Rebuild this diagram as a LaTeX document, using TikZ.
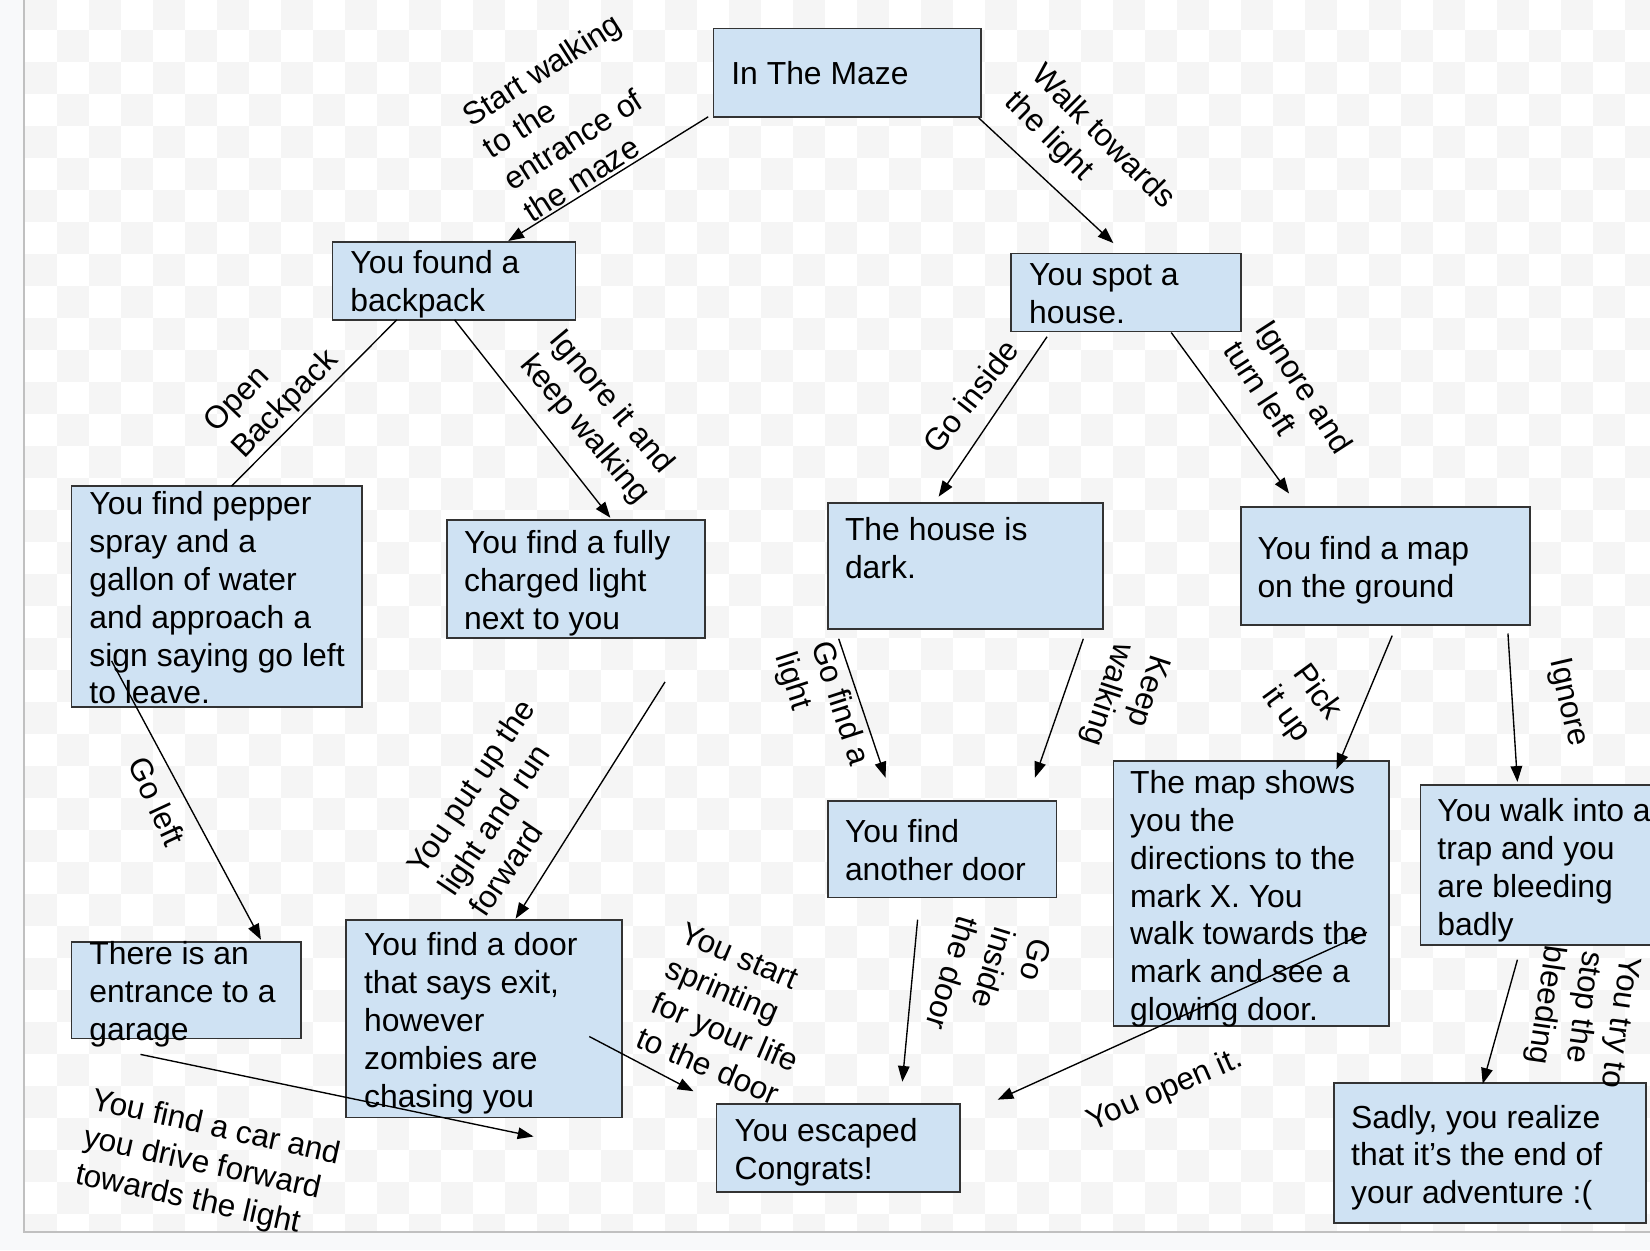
\documentclass[tikz,border=0pt]{standalone}
\usepackage{fontspec}
\setmainfont{Liberation Sans}
\usetikzlibrary{calc,arrows.meta}
\definecolor{boxfill}{HTML}{CFE2F3}
\definecolor{boxline}{HTML}{333333}
\definecolor{chk}{HTML}{F5F5F5}
\definecolor{outerbg}{HTML}{F8F9FA}
\definecolor{frameline}{HTML}{C0C0C0}
\newcommand\mybox[5]{\node[box,minimum width=#4pt,minimum height=#5pt] (#1) at (#2,#3) {};}
\newcommand\boxtext[4]{\node[txt] (#1) at (#2,{#3-25.2}) {\strut #4};}
\newcommand\elbl[5]{\node[lbl,rotate=#4] (#1) at ($(#2,#3)+({#4+90}:25.2pt)$) {\strut #5};}
\begin{document}
\begin{tikzpicture}[x=1pt,y=-1pt,
  box/.style={draw=boxline,fill=boxfill,line width=1.6pt,inner sep=0pt,outer sep=0pt,anchor=north west},
  txt/.style={font=\fontsize{30.3}{36}\selectfont,align=left,inner sep=0pt,outer sep=0pt,anchor=north west},
  lbl/.style={font=\fontsize{30}{36}\selectfont,align=left,inner sep=0pt,outer sep=0pt,anchor=north west},
  conn/.style={line width=1.3pt,draw=black},
  arr/.style={conn,-{Triangle[length=15pt,width=11pt]}}]
\useasboundingbox (0,0) rectangle (1568,1188);
\clip (0,0) rectangle (1568,1188);
\fill[outerbg] (0,0) rectangle (1568,1188);
\begin{scope}
\clip (23.5,0) rectangle (1568,1170.5);
\fill[white] (23.5,0) rectangle (1568,1170.5);
\foreach \i in {0,...,51}{\foreach \j in {0,2,...,40}{\fill[chk] ({23.76+\i*30.41},{-1.9+(\j+mod(\i,2))*30.41}) rectangle ++(30.41,30.41);}}
\end{scope}
\draw[frameline,line width=1.9pt] (22.6,0) -- (22.6,1170.5) -- (1568,1170.5);

% boxes
\mybox{maze}{678}{27}{254}{84}
\mybox{backpack}{316}{230}{231}{74}
\mybox{house}{961}{241}{218}{74}
\mybox{pepper}{68}{462}{276}{210}
\mybox{light}{425}{494}{245}{112}
\mybox{dark}{787}{478}{261}{120}
\mybox{map}{1179}{482}{275}{112}
\mybox{another}{787}{761}{217}{92}
\mybox{mapshows}{1058}{723}{262}{252}
\mybox{trap}{1350}{746}{250}{152}
\mybox{garage}{68}{895}{218}{92}
\mybox{zombie}{329}{874}{262}{188}
\mybox{escaped}{681}{1049}{231}{84}
\mybox{sadly}{1268}{1029}{296}{133}

% box texts
\boxtext{tmaze}{695}{80}{In The Maze}
\boxtext{tbackpack}{333}{260}{You found a\\backpack}
\boxtext{thouse}{978}{271}{You spot a\\house.}
\boxtext{tpepper}{85}{489}{You find pepper\\spray and a\\gallon of water\\and approach a\\sign saying go left\\to leave.}
\boxtext{tlight}{441}{526}{You find a fully\\charged light\\next to you}
\boxtext{tdark}{803}{514}{The house is\\dark.}
\boxtext{tmap}{1195}{532}{You find a map\\on the ground}
\boxtext{tanother}{803}{801}{You find\\another door}
\boxtext{tmapshows}{1074}{754}{The map shows\\you the\\directions to the\\mark X. You\\walk towards the\\mark and see a\\glowing door.}
\boxtext{ttrap}{1366}{781}{You walk into a\\trap and you\\are bleeding\\badly}
\boxtext{tgarage}{85}{917}{There is an\\entrance to a\\garage}
\boxtext{tzombie}{346}{908}{You find a door\\that says exit,\\however\\zombies are\\chasing you}
\boxtext{tescaped}{698}{1085}{You escaped\\Congrats!}
\boxtext{tsadly}{1284}{1072}{Sadly, you realize\\that it's the end of\\your adventure :(}

% connectors
\draw[arr] ($(maze.south west)+(-5,0)$) -- ($(backpack.north)+(51.5,-1)$);
\draw[arr] ($(maze.south east)+(-2,1)$) -- ($(house.north)+(-12,-10)$);
\draw[conn] ($(backpack.south)+(-54.5,0)$) -- ($(pepper.north)+(14,0)$);
\draw[arr] ($(backpack.south)+(0.5,0)$) -- ($(light.north)+(32.5,-2)$);
\draw[arr] ($(pepper.south west)+(38,-44)$) -- ($(garage.north)+(71,-2)$);
\draw[arr] ($(light.south)+(84.5,42)$) -- ($(zombie.north)+(30,-1)$);
\draw[arr] ($(house.south)+(-75,5)$) -- ($(dark.north)+(-25.5,-6)$);
\draw[arr] ($(house.south)+(43,1)$) -- ($(map.north)+(-91.5,-13)$);
\draw[arr] ($(dark.south)+(-120.5,9)$) -- ($(another.north)+(-54,-22)$);
\draw[arr] ($(dark.south)+(112,9)$) -- ($(another.north)+(88,-22)$);
\draw[arr] ($(map.south)+(6.5,10)$) -- ($(mapshows.north)+(81,8)$);
\draw[arr] ($(map.south)+(116.5,8)$) -- ($(trap.north west)+(92,-3)$);
\draw[arr] ($(trap.south west)+(92,14)$) -- ($(sadly.north west)+(141,1)$);
\draw[arr] ($(another.south)+(-23.5,21)$) -- ($(escaped.north)+(61,-21)$);
\draw[arr] ($(mapshows.south east)+(-21,-89)$) -- ($(escaped.east)+(36,-46)$);
\draw[arr] ($(zombie.south east)+(-31,-77)$) -- ($(escaped.west)+(-22,-54)$);
\draw[arr] ($(garage.south west)+(65.5,15)$) -- ($(zombie.south)+(47,18)$);

% connector labels
\elbl{l1}{448}{121}{32.5}{Start walking\\to the\\entrance of\\the maze}
\elbl{l2}{979}{73}{-45}{Walk towards\\the light}
\elbl{l3}{206}{412}{46}{Open\\Backpack}
\elbl{l4}{521}{324}{-50}{Ignore it and\\keep walking}
\elbl{l5}{402}{833}{56}{You put up the\\light and run\\forward}
\elbl{l6}{645}{895}{-23}{You start\\sprinting\\for your life\\to the door}
\elbl{l7}{892}{433}{52}{Go inside}
\elbl{l8}{1192}{313}{-57}{Ignore and\\turn left}
\elbl{l9}{771}{613}{-72}{Go find a\\light}
\elbl{l10}{1094}{621}{-108}{Keep\\walking}
\elbl{l11}{980}{890}{-107}{Go\\inside\\the door}
\elbl{l12}{1228}{640}{-54}{Pick\\it up}
\elbl{l13}{1473}{628}{-77}{Ignore}
\elbl{l14}{1540}{908}{-98}{You try to\\stop the\\bleeding}
\elbl{l15}{86}{1054}{-12.5}{You find a car and\\you drive forward\\towards the light}
\elbl{l16}{1038}{1075}{23.5}{You open it.}
\elbl{l17}{121}{726}{-65}{Go left}
\end{tikzpicture}
\end{document}
